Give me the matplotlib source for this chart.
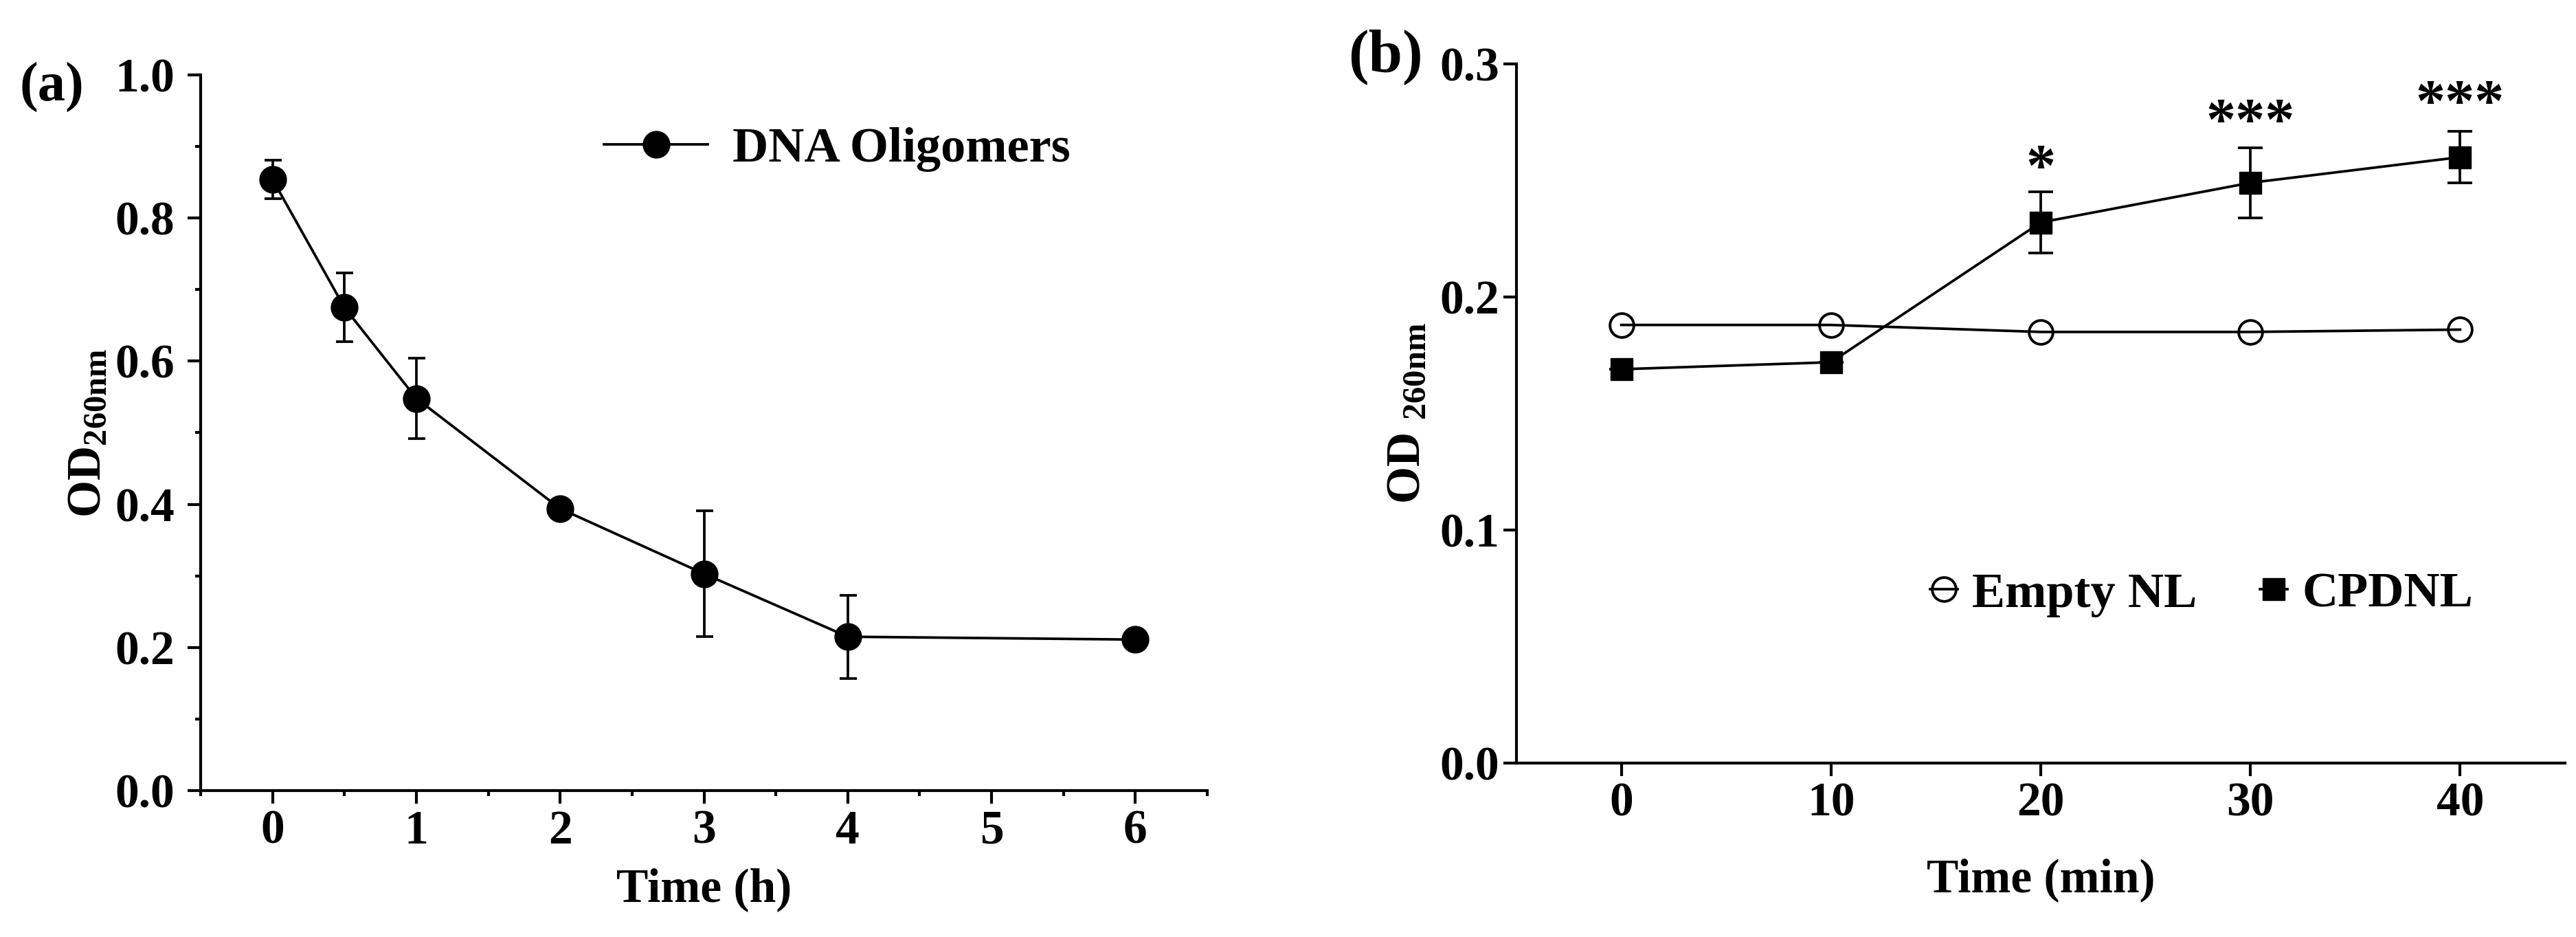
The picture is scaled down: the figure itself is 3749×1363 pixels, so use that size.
import matplotlib
matplotlib.use("Agg")
import matplotlib.pyplot as plt
from matplotlib.ticker import MultipleLocator, FormatStrFormatter

plt.rcParams['font.family'] = ['Liberation Serif', 'DejaVu Serif']
plt.rcParams['font.weight'] = 'bold'
plt.rcParams['mathtext.default'] = 'regular'

# panel (a): DNA oligomers
time_h = [0, 0.5, 1, 2, 3, 4, 6]
od_dna = [0.854, 0.675, 0.548, 0.394, 0.303, 0.215, 0.211]
err_dna = [0.027, 0.048, 0.056, 0.0, 0.088, 0.058, 0.0]

# panel (b): Empty NL vs CPDNL
time_min = [0, 10, 20, 30, 40]
od_empty = [0.188, 0.188, 0.185, 0.185, 0.186]
od_cpdnl = [0.169, 0.172, 0.232, 0.249, 0.260]
err_cpdnl = [0.0, 0.0, 0.013, 0.015, 0.011]
stars = ['', '', '*', '***', '***']
star_y = [0, 0, 0.254, 0.274, 0.282]

W, H = 3749, 1363
fig = plt.figure(figsize=(W / 100, H / 100), dpi=100)

fs = 50
lw = 2.7

def style_axes(ax):
    for s in ['top', 'right']:
        ax.spines[s].set_visible(False)
    for s in ['left', 'bottom']:
        ax.spines[s].set_linewidth(3)
    ax.tick_params(which='major', length=14, width=3, labelsize=fs)
    ax.tick_params(which='minor', length=6, width=3)

# ---- (a)
ax1 = fig.add_axes([292 / W, 1 - 1150 / H, 1465 / W, 1041 / H])
eb1 = ax1.errorbar(time_h, od_dna, yerr=err_dna, color='black', marker='o', markersize=28,
                   linewidth=lw, elinewidth=lw, capsize=9, capthick=lw)
ax1.set_xlim(-0.5, 6.5)
ax1.set_ylim(0, 1.0)
ax1.xaxis.set_major_locator(MultipleLocator(1))
ax1.xaxis.set_minor_locator(MultipleLocator(0.5))
ax1.yaxis.set_major_locator(MultipleLocator(0.2))
ax1.yaxis.set_minor_locator(MultipleLocator(0.1))
ax1.yaxis.set_major_formatter(FormatStrFormatter('%.1f'))
style_axes(ax1)
ax1.tick_params(axis='y', which='major', pad=13)
ax1.tick_params(axis='x', which='major', pad=6)
ax1.set_xlabel('Time (h)', fontsize=fs, fontweight='bold')
ax1.set_ylabel('OD$_{260nm}$', fontsize=fs, fontweight='bold')
ax1.xaxis.set_label_coords(0.5, -0.108)
ax1.yaxis.set_label_coords(-0.090, 0.5)
ax1.legend([eb1.lines[0]], ['DNA Oligomers'], loc='center left',
           bbox_to_anchor=(0.401, 0.896), frameon=False,
           fontsize=52, handlelength=2.08, handletextpad=0.5, borderpad=0,
           borderaxespad=0, numpoints=1)
fig.text(75 / W, 1 - 127 / H, '(a)', fontsize=58, fontweight='bold', ha='center', va='center')

# ---- (b)
ax2 = fig.add_axes([2207 / W, 1 - 1110 / H, 1526 / W, 1017 / H])
ln_empty, = ax2.plot(time_min, od_empty, color='black', marker='o', markersize=25,
                     markerfacecolor='none', markeredgewidth=2.8, linewidth=lw)
eb2 = ax2.errorbar(time_min, od_cpdnl, yerr=err_cpdnl, color='black', marker='s', markersize=23,
                   linewidth=lw, elinewidth=lw, capsize=13, capthick=lw)
for x, y, s in zip(time_min, star_y, stars):
    if s:
        ax2.text(x, y, s, fontsize=62, fontweight='bold', ha='center', va='center')
ax2.set_xlim(-5, 45)
ax2.set_ylim(0, 0.3)
ax2.xaxis.set_major_locator(MultipleLocator(10))
ax2.yaxis.set_major_locator(MultipleLocator(0.1))
ax2.yaxis.set_major_formatter(FormatStrFormatter('%.1f'))
style_axes(ax2)
ax2.tick_params(axis='y', which='major', pad=4)
ax2.tick_params(axis='x', which='major', pad=6)
ax2.set_xlabel('Time (min)', fontsize=fs, fontweight='bold')
ax2.set_ylabel('OD $_{260nm}$', fontsize=fs, fontweight='bold')
ax2.xaxis.set_label_coords(0.5, -0.136)
ax2.yaxis.set_label_coords(-0.083, 0.5)
ax2.legend([ln_empty, eb2.lines[0]], ['Empty NL', 'CPDNL'], loc='center left',
           bbox_to_anchor=(0.3945, 0.241), frameon=False,
           fontsize=52, ncol=2, handlelength=0.55, handletextpad=0.3,
           columnspacing=1.27, borderpad=0, borderaxespad=0, numpoints=1)
fig.text(2016 / W, 1 - 83 / H, '(b)', fontsize=64, fontweight='bold', ha='center', va='center')

fig.savefig('out.png', dpi=100, facecolor='white')
